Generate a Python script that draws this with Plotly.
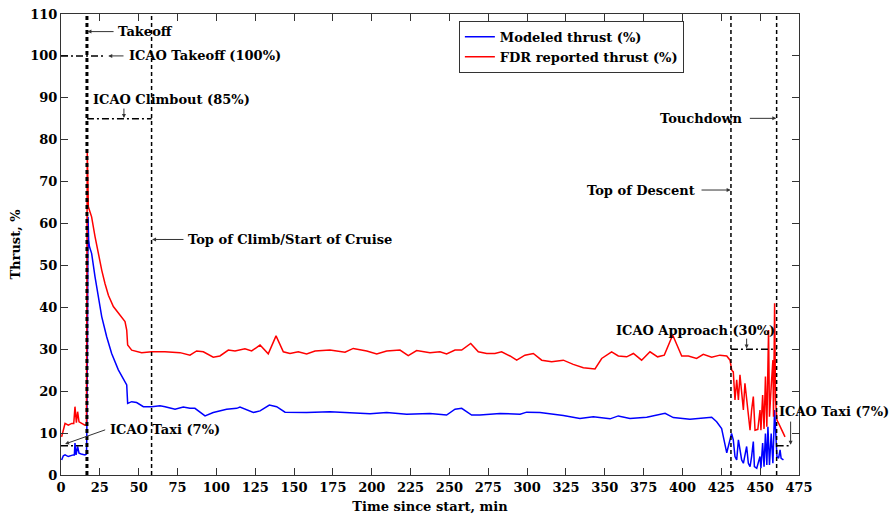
import plotly.graph_objects as go

# ---------------- data ----------------
red_t = [0.4, 1.5, 2.6, 4.7, 6.9, 8.2, 9.0, 9.9, 10.7, 11.6, 13.3, 15.4, 16.4, 16.7, 16.9, 17.3,
         17.6, 19.7, 21.9, 24.0, 26.2, 28.3, 30.5, 33.7, 38.0, 41.2, 42.3, 42.9, 45.5, 51.9, 58.4,
         66.9, 76.6, 83.0, 87.3, 91.6, 98.0, 102.3, 107.7, 112.0, 118.4, 122.7, 128.1, 133.4, 138.4,
         143.1, 147.4, 152.7, 158.1, 163.5, 173.1, 179.6, 182.8, 188.1, 196.8, 203.2, 209.6, 218.2,
         223.5, 228.9, 237.5, 243.9, 248.2, 253.6, 257.9, 263.7, 268.6, 274.0, 279.3, 283.6, 289.0,
         293.3, 298.6, 304.0, 309.4, 315.8, 323.3, 329.7, 336.2, 343.7, 348.0, 354.4, 358.7, 364.1,
         368.4, 373.7, 379.1, 384.0, 388.3, 393.7, 399.5, 403.8, 409.1, 413.4, 418.8, 424.1, 428.5,
         430.6, 431.7, 432.7, 433.8, 434.9, 436.0, 437.0, 438.1, 439.2, 440.2, 441.3, 442.4, 443.5,
         444.5, 445.6, 446.7, 448.5, 449.9, 450.5, 451.6, 452.5, 453.4, 454.3, 455.4, 456.0, 457.1,
         458.2, 458.6, 459.3, 459.9, 460.8, 461.9, 462.8, 465.0, 466.0]
red_v = [9.1, 11.0, 12.3, 11.9, 12.3, 12.3, 16.3, 12.5, 15.1, 12.7, 12.3, 11.9, 12.0, 45.0, 77.1, 70.0,
         64.0, 61.6, 56.9, 52.9, 48.9, 45.7, 42.9, 40.2, 38.2, 36.6, 34.6, 31.0, 29.8, 29.2, 29.4,
         29.4, 29.2, 28.6, 29.6, 29.4, 28.1, 28.4, 29.8, 29.6, 30.1, 29.6, 31.0, 28.9, 33.2,
         29.4, 29.0, 29.4, 28.9, 29.6, 29.8, 29.4, 29.3, 30.2, 29.6, 28.9, 29.6, 29.8,
         28.5, 29.7, 29.2, 29.4, 28.9, 29.8, 29.8, 31.4, 29.4, 29.0, 29.0, 29.4, 28.4,
         27.4, 28.6, 29.0, 27.4, 27.0, 27.4, 26.4, 25.6, 25.3, 27.8, 29.4, 28.4, 28.2,
         29.0, 27.4, 29.4, 28.2, 28.6, 33.4, 28.4, 28.4, 27.8, 28.8, 28.1, 28.6, 28.4,
         27.4, 25.0, 24.6, 17.9, 22.7, 17.9, 23.9, 19.5, 15.5, 21.9, 17.9, 14.7, 10.7,
         15.5, 18.7, 10.7, 10.9, 15.5, 10.7, 19.1, 11.0, 23.5, 11.5, 34.6, 13.9, 21.1,
         27.4, 13.9, 41.0, 17.9, 13.1, 12.3, 11.5, 9.9, 9.1]

blue_t = [0.4, 1.5, 2.6, 4.7, 7.9, 8.6, 9.0, 9.7, 10.7, 11.6, 13.0, 15.4, 16.4, 16.6, 17.0, 17.4,
          17.8, 18.3, 19.7, 21.9, 24.0, 26.2, 29.4, 32.6, 36.9, 40.1, 42.3, 42.9, 45.5, 48.7, 53.0,
          58.4, 63.7, 67.0, 73.4, 78.7, 83.0, 86.2, 92.7, 98.0, 100.2, 106.6, 113.1, 115.2, 123.8,
          128.1, 134.1, 138.8, 144.2, 158.1, 173.1, 186.0, 198.9, 209.6, 222.5, 237.5, 248.2, 253.6,
          257.9, 264.3, 269.6, 282.6, 295.5, 299.7, 308.3, 323.3, 334.0, 342.6, 353.4, 358.7, 366.2,
          377.0, 388.8, 394.1, 404.8, 418.8, 422.0, 425.2, 428.5, 431.6, 432.7, 433.8, 434.9, 436.0,
          437.0, 438.1, 439.2, 440.2, 441.3, 442.4, 443.5, 444.5, 445.6, 446.3, 447.8, 449.9, 450.5,
          451.6, 452.5, 453.4, 454.3, 455.0, 456.0, 457.1, 458.2, 459.3, 459.9, 460.8, 461.9, 462.8,
          463.5, 465.0]
blue_v = [3.6, 4.6, 4.8, 4.4, 4.8, 4.8, 7.6, 4.8, 6.8, 5.2, 5.0, 4.8, 5.0, 9.0, 30.0, 61.6,
          56.0, 54.5, 52.9, 47.3, 42.5, 37.8, 33.0, 29.0, 25.1, 23.1, 21.5, 17.1, 17.5, 17.3, 16.3,
          16.3, 16.5, 16.3, 15.7, 16.2, 15.9, 15.9, 14.1, 14.9, 15.1, 15.7, 15.9, 16.2, 14.9,
          15.3, 16.7, 16.3, 15.0, 14.9, 15.1, 14.9, 14.6, 14.9, 14.5, 14.7, 14.3, 15.7,
          15.9, 14.3, 14.3, 14.7, 14.5, 15.0, 14.9, 14.2, 13.5, 13.9, 13.4, 14.1, 13.5,
          13.8, 14.7, 13.7, 13.3, 13.8, 12.7, 11.1, 5.3, 9.9, 8.4, 4.4, 3.6, 8.4,
          6.0, 3.6, 2.8, 5.2, 6.8, 2.8, 2.0, 4.4, 8.0, 2.0, 1.6, 4.4, 1.6,
          7.6, 2.0, 9.9, 2.4, 11.5, 2.4, 9.9, 2.8, 15.5, 9.9, 4.4, 4.0, 6.0,
          4.0, 3.6]

# flight events (min)
t_takeoff = 16.7
t_top_climb = 58.3
t_top_descent = 431.2
t_touchdown = 460.6

# ICAO reference levels (%)
icao_takeoff = 100
icao_climbout = 85
icao_approach = 30
icao_taxi = 7

x_ticks = list(range(0, 476, 25))
y_ticks = list(range(0, 111, 10))

FONT = "DejaVu Serif"
DASH = "4px,3px"
DASHDOT = "7px,3px,2px,3px"

fig = go.Figure()
fig.add_trace(go.Scatter(x=blue_t, y=blue_v, mode="lines", name="<b>Modeled thrust (%)</b>",
                         line=dict(color="#0000ff", width=1.5)))
fig.add_trace(go.Scatter(x=red_t, y=red_v, mode="lines", name="<b>FDR reported thrust (%)</b>",
                         line=dict(color="#ff0000", width=1.5)))

shapes = []
# vertical event lines
for t, w in [(t_takeoff, 3), (t_top_climb, 1.5), (t_top_descent, 1.5), (t_touchdown, 1.5)]:
    shapes.append(dict(type="line", xref="x", yref="y", x0=t, x1=t, y0=0, y1=110,
                       line=dict(color="black", width=w, dash=DASH)))
# ICAO level segments (dash-dot)
for xa, xb, lvl in [(0, 28, icao_takeoff), (t_takeoff, t_top_climb, icao_climbout),
                    (t_top_descent, t_touchdown, icao_approach), (0, t_takeoff, icao_taxi),
                    (t_touchdown, 470, icao_taxi)]:
    shapes.append(dict(type="line", xref="x", yref="y", x0=xa, x1=xb, y0=lvl, y1=lvl,
                       line=dict(color="black", width=1.5, dash=DASHDOT)))

annots = []
# text labels: (x, y, text, anchor)
labels = [
    (35.4, 105.8, "Takeoff", "left"),
    (42.3, 100.0, "ICAO Takeoff (100%)", "left"),
    (19.1, 89.5, "ICAO Climbout (85%)", "left"),
    (80.6, 56.2, "Top of Climb/Start of Cruise", "left"),
    (30.4, 10.9, "ICAO Taxi (7%)", "left"),
    (409.4, 68.0, "Top of Descent", "right"),
    (440.2, 85.1, "Touchdown", "right"),
    (356.1, 34.4, "ICAO Approach (30%)", "left"),
    (460.6, 15.1, "ICAO Taxi (7%)", "left"),
]
for x, y, txt, anc in labels:
    annots.append(dict(x=x, y=y, xref="x", yref="y", text="<b>" + txt + "</b>", showarrow=False,
                       xanchor=anc, yanchor="middle", font=dict(family=FONT, size=13, color="black")))
# arrows: (head_x, head_y, tail_x, tail_y)
arrows = [
    (17.0, 105.8, 34.8, 105.8),
    (30.4, 100.0, 41.2, 100.0),
    (40.5, 85.2, 40.5, 87.8),
    (58.6, 56.2, 79.8, 56.2),
    (2.6, 7.4, 29.4, 10.9),
    (431.0, 68.0, 411.3, 68.0),
    (460.4, 85.1, 442.4, 85.1),
    (441.3, 30.2, 441.3, 32.9),
    (469.6, 7.2, 469.6, 13.1),
]
for hx, hy, tx, ty in arrows:
    annots.append(dict(x=hx, y=hy, ax=tx, ay=ty, xref="x", yref="y", axref="x", ayref="y",
                       text="", showarrow=True, arrowhead=2, arrowsize=0.8, arrowwidth=1,
                       arrowcolor="#333333"))

axis_common = dict(showgrid=False, zeroline=False, showline=True, linecolor="#333333", linewidth=1,
                   mirror="ticks", ticks="inside", ticklen=7, tickcolor="#333333", automargin=False,
                   tickfont=dict(family=FONT, size=13, color="black"))

fig.update_layout(
    width=891, height=516,
    margin=dict(l=61, r=92, t=14, b=41),
    paper_bgcolor="white", plot_bgcolor="white",
    font=dict(family=FONT, size=13, color="black"),
    shapes=shapes, annotations=annots,
    showlegend=True,
    legend=dict(x=0.844, y=0.985, xanchor="right", yanchor="top", bgcolor="white",
                bordercolor="#333333", borderwidth=1, itemwidth=30,
                font=dict(family=FONT, size=13, color="black"), tracegroupgap=0),
    xaxis=dict(range=[0, 475], tickvals=x_ticks, ticktext=["<b>%d</b>" % v for v in x_ticks],
               title=dict(text="<b>Time since start, min</b>", standoff=8,
                          font=dict(family=FONT, size=13)), **axis_common),
    yaxis=dict(range=[0, 110], tickvals=y_ticks, ticktext=["<b>%d</b>" % v for v in y_ticks],
               title=dict(text="<b>Thrust, %</b>", standoff=6,
                          font=dict(family=FONT, size=13)), **axis_common),
)

fig.write_html("out.html")
